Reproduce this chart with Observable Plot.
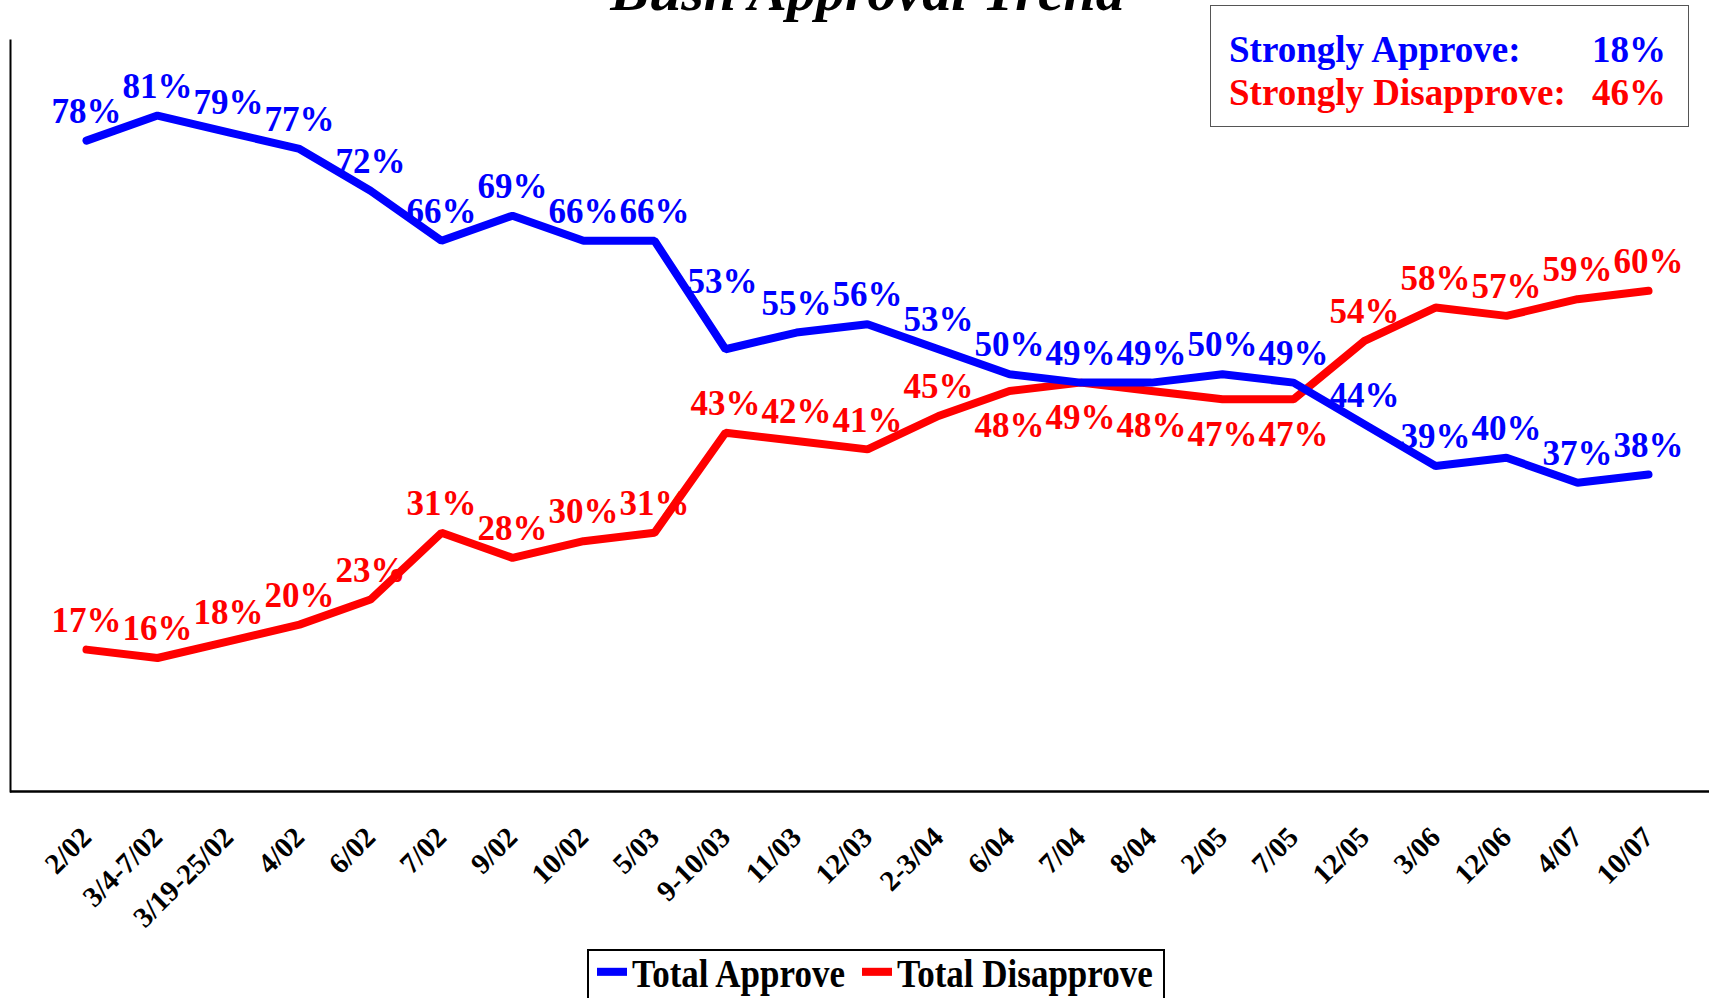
<!DOCTYPE html>
<html>
<head>
<meta charset="utf-8">
<script src="https://cdn.jsdelivr.net/npm/d3@7"></script>
<script src="https://cdn.jsdelivr.net/npm/@observablehq/plot@0.6"></script>
<style>
  html, body { margin: 0; padding: 0; background: #fff; overflow: hidden; }
  body { width: 1709px; height: 998px; position: relative; font-family: "Liberation Serif", "Times New Roman", serif; }
  #chart { position: absolute; left: 0; top: 0; }
  #title { position: absolute; left: 0; width: 1735px; text-align: center; top: -38px; font-size: 58px; line-height: 1; font-weight: bold; font-style: italic; color: #000; white-space: nowrap; }
  #strong { position: absolute; left: 1210px; top: 5px; width: 479px; height: 122px; border: 1.5px solid #555; box-sizing: border-box; background: #fff; font-weight: bold; font-size: 37px; }
  #strong .row { position: absolute; left: 18px; width: 437px; line-height: 1; }
  #strong .row span.v { position: absolute; right: 0; }
  #legend { position: absolute; left: 587px; top: 949px; width: 578px; height: 70px; border: 2px solid #000; box-sizing: border-box; background: #fff; font-weight: bold; font-size: 35px; }
  #legend .item { position: absolute; top: 3px; line-height: 1; white-space: nowrap; transform: scaleY(1.15); transform-origin: left top; }
  #legend .sw { display: inline-block; width: 30px; height: 7px; margin-right: 5px; vertical-align: 0.3em; }
</style>
</head>
<body>
<div id="chart"></div>
<div id="title">Bush Approval Trend</div>
<div id="strong"></div>
<div id="legend"></div>
<script>
const dates = ["2/02","3/4-7/02","3/19-25/02","4/02","6/02","7/02","9/02","10/02","5/03","9-10/03","11/03","12/03","2-3/04","6/04","7/04","8/04","2/05","7/05","12/05","3/06","12/06","4/07","10/07"];
const approve = [78,81,79,77,72,66,69,66,66,53,55,56,53,50,49,49,50,49,44,39,40,37,38];
const disapprove = [17,16,18,20,23,31,28,30,31,43,42,41,45,48,49,48,47,47,54,58,57,59,60];
const seriesNames = ["Total Approve", "Total Disapprove"];
const seriesColors = ["#0000ff", "#ff0000"];
const strongLabels = ["Strongly Approve:", "Strongly Disapprove:"];
const strongValues = [18, 46];

const rows = [];
dates.forEach((d, i) => {
  rows.push({date: d, series: seriesNames[0], value: approve[i], gap: approve[i] - disapprove[i]});
});
dates.forEach((d, i) => {
  rows.push({date: d, series: seriesNames[1], value: disapprove[i], gap: approve[i] - disapprove[i]});
});
// Disapprove labels sit below the line where the two series run close together
const isBelow = r => r.series === seriesNames[1] && r.gap >= 0 && r.gap < 5;
// label lifted clear of the steep drop (as in the original)
const lifted = r => r.series === seriesNames[0] && r.date === "9-10/03";

const font = '"Liberation Serif", "Times New Roman", serif';
const labelOpts = {x: "date", y: "value", text: r => r.value + "%", fill: "series", fontSize: 35, fontWeight: "bold", lineAnchor: "middle"};
const chart = Plot.plot({
  width: 1709,
  height: 945,
  marginLeft: 10,
  marginRight: 0,
  marginTop: 40,
  marginBottom: 154,
  style: {fontFamily: font, background: "white"},
  x: {type: "point", domain: dates, range: [82, 1651], padding: 0, label: null},
  y: {domain: [0, 90], axis: null},
  color: {domain: seriesNames, range: seriesColors},
  marks: [
    Plot.frame({anchor: "left", stroke: "#000", strokeWidth: 2}),
    Plot.ruleY([0], {stroke: "#000", strokeWidth: 2.5}),
    Plot.axisX({
      tickSize: 0, tickPadding: 41, tickRotate: -45,
      fontSize: 29, fontWeight: "bold", fill: "#000", label: null, dx: 0
    }),
    Plot.line(rows.filter(r => r.series === seriesNames[1]), {x: "date", y: "value", stroke: "series", strokeWidth: 8, strokeLinejoin: "miter"}),
    Plot.line(rows.filter(r => r.series === seriesNames[0]), {x: "date", y: "value", stroke: "series", strokeWidth: 8, strokeLinejoin: "miter"}),
    Plot.text(rows.filter(r => !isBelow(r) && !lifted(r)), {...labelOpts, dy: -29}),
    Plot.text(rows.filter(lifted), {...labelOpts, dx: -3, dy: -67}),
    Plot.text(rows.filter(isBelow), {...labelOpts, dy: 35})
  ]
});
document.getElementById("chart").appendChild(chart);

const strong = document.getElementById("strong");
strongLabels.forEach((lab, i) => {
  const row = document.createElement("div");
  row.className = "row";
  row.style.top = (i === 0 ? 25 : 68) + "px";
  row.style.color = seriesColors[i];
  row.innerHTML = `<span>${lab}</span><span class="v">${strongValues[i]}%</span>`;
  strong.appendChild(row);
});

const legend = document.getElementById("legend");
seriesNames.forEach((name, i) => {
  const it = document.createElement("div");
  it.className = "item";
  it.style.left = (i === 0 ? 8 : 273) + "px";
  it.innerHTML = `<span class="sw" style="background:${seriesColors[i]}"></span>${name}`;
  legend.appendChild(it);
});
</script>
</body>
</html>
